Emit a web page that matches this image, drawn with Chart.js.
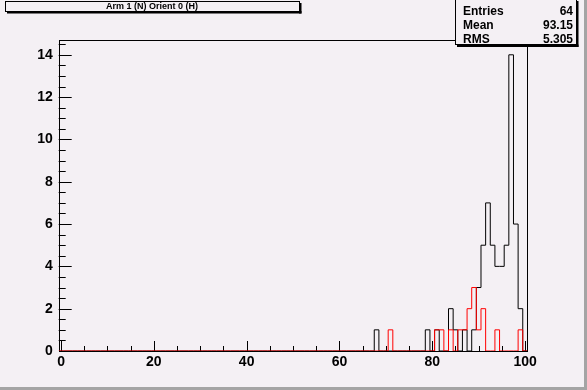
<!DOCTYPE html>
<html>
<head>
<meta charset="utf-8">
<script src="https://cdn.jsdelivr.net/npm/chart.js@4/dist/chart.umd.min.js"></script>
<style>
  html, body { margin: 0; padding: 0; background: #f4f0f4; }
  #wrap { position: relative; width: 587px; height: 390px; }
</style>
</head>
<body>
<div id="wrap"><canvas id="histo" width="587" height="390"></canvas></div>
<script>
const titleText = 'Arm 1 (N) Orient 0 (H)';
const blackBins   = [68, 79, 81, 84, 85, 87, 89, 90, 91, 92, 93, 94, 95, 96, 97, 98, 99];
const blackCounts = [1, 1, 1, 2, 1, 1, 1, 3, 5, 7, 5, 4, 4, 5, 14, 6, 2];
const redBins   = [71, 81, 82, 84, 86, 87, 88, 89, 90, 91, 94, 99];
const redCounts = [1, 1, 1, 1, 1, 1, 2, 3, 1, 2, 1, 1];
const statLabels = ['Entries', 'Mean', 'RMS'];
const statValues = ['64', '93.15', '5.305'];
const xTicks = [0, 20, 40, 60, 80, 100];
const yTicks = [0, 2, 4, 6, 8, 10, 12, 14];
const nBins = 101;

const bg = '#f4f0f4';
const font = 'Liberation Sans, Arial, Helvetica, sans-serif';

// monta os pontos do contorno em degraus (bordas dos bins)
function montarHisto(bins, counts) {
    const h = new Array(nBins).fill(0);
    bins.forEach((b, i) => { h[b] += counts[i]; });
    const pts = h.map((v, k) => ({ x: k - 0.5, y: v }));
    pts.push({ x: nBins - 0.5, y: 0 });
    return pts;
}

// moldura, marcas dos eixos, caixas de título e estatísticas
const rootPlugin = {
    id: 'rootStyle',
    beforeDraw(chart) {
        const ctx = chart.ctx;
        ctx.save();
        ctx.fillStyle = bg;
        ctx.fillRect(0, 0, 587, 390);
        ctx.fillStyle = '#a4a4a4';
        ctx.fillRect(0, 387, 587, 3);
        ctx.fillRect(584, 0, 3, 390);
        ctx.restore();
    },
    beforeDatasetsDraw(chart) {
        const ctx = chart.ctx;
        const a = chart.chartArea;
        const xs = chart.scales.x, ys = chart.scales.y;
        ctx.save();
        ctx.strokeStyle = '#000';
        ctx.lineWidth = 1;
        ctx.strokeRect(Math.round(a.left) + 0.5, Math.round(a.top) + 0.5,
            Math.round(a.right - a.left) - 1, Math.round(a.bottom - a.top));
        ctx.beginPath();
        for (let v = 0; v <= 100; v += 5) {
            const px = Math.round(xs.getPixelForValue(v)) + 0.5;
            const len = v % 20 === 0 ? 10 : 5;
            ctx.moveTo(px, a.bottom);
            ctx.lineTo(px, a.bottom - len);
        }
        for (let v = 0.5; v <= 14.5; v += 0.5) {
            const py = Math.round(ys.getPixelForValue(v)) + 0.5;
            const len = v % 2 === 0 ? 13 : 7;
            ctx.moveTo(a.left, py);
            ctx.lineTo(a.left + len, py);
        }
        ctx.stroke();
        ctx.restore();
    },
    afterDraw(chart) {
        const ctx = chart.ctx;
        ctx.save();
        // caixa do título
        ctx.fillStyle = bg;
        ctx.fillRect(5, 2, 294, 10);
        ctx.strokeStyle = '#000';
        ctx.lineWidth = 1;
        ctx.strokeRect(5.5, 1.5, 294, 10);
        ctx.fillStyle = '#000';
        ctx.fillRect(299, 3, 2.5, 10.5);
        ctx.fillRect(7, 11, 294.5, 2.5);
        ctx.font = 'bold 9px ' + font;
        ctx.textAlign = 'center';
        ctx.textBaseline = 'middle';
        ctx.fillText(titleText, 152, 7);

        // caixa de estatísticas
        ctx.fillStyle = bg;
        ctx.fillRect(455, 0, 122, 46);
        ctx.strokeRect(455.5, -0.5, 121, 45);
        ctx.fillStyle = '#000';
        ctx.fillRect(576, 1, 2.5, 46);
        ctx.fillRect(457, 44.5, 121.5, 2.5);
        ctx.font = 'bold 12px ' + font;
        const linhas = [12, 26, 39.5];
        statLabels.forEach((lab, i) => {
            ctx.textAlign = 'left';
            ctx.fillText(lab, 463, linhas[i]);
            ctx.textAlign = 'right';
            ctx.fillText(statValues[i], 573, linhas[i]);
        });
        ctx.restore();
    }
};

new Chart(document.getElementById('histo'), {
    type: 'line',
    data: {
        datasets: [
            {
                label: 'red',
                data: montarHisto(redBins, redCounts),
                borderColor: '#ff0000',
                borderWidth: 1,
                stepped: 'before',
                pointRadius: 0,
                fill: false,
                order: 0
            },
            {
                label: 'black',
                data: montarHisto(blackBins, blackCounts),
                borderColor: '#000000',
                borderWidth: 1,
                stepped: 'before',
                pointRadius: 0,
                fill: false,
                order: 1
            }
        ]
    },
    options: {
        responsive: false,
        animation: false,
        parsing: false,
        layout: { padding: { left: 0, top: 40, right: 59.6, bottom: 0 } },
        plugins: { legend: { display: false }, tooltip: { enabled: false } },
        scales: {
            x: {
                type: 'linear',
                min: -0.5,
                max: nBins - 0.5,
                grid: { display: false, drawTicks: false },
                border: { display: false },
                afterBuildTicks: (s) => { s.ticks = xTicks.map(v => ({ value: v })); },
                afterFit: (s) => { s.height = 39; },
                ticks: {
                    color: '#000',
                    padding: 3,
                    maxRotation: 0,
                    font: { family: font, size: 14, weight: 'bold' }
                }
            },
            y: {
                type: 'linear',
                min: 0,
                max: 14.7,
                grid: { display: false, drawTicks: false },
                border: { display: false },
                afterBuildTicks: (s) => { s.ticks = yTicks.map(v => ({ value: v })); },
                afterFit: (s) => { s.width = 58.7; },
                ticks: {
                    color: '#000',
                    padding: 6,
                    font: { family: font, size: 14, weight: 'bold' }
                }
            }
        }
    },
    plugins: [rootPlugin]
});
</script>
</body>
</html>
